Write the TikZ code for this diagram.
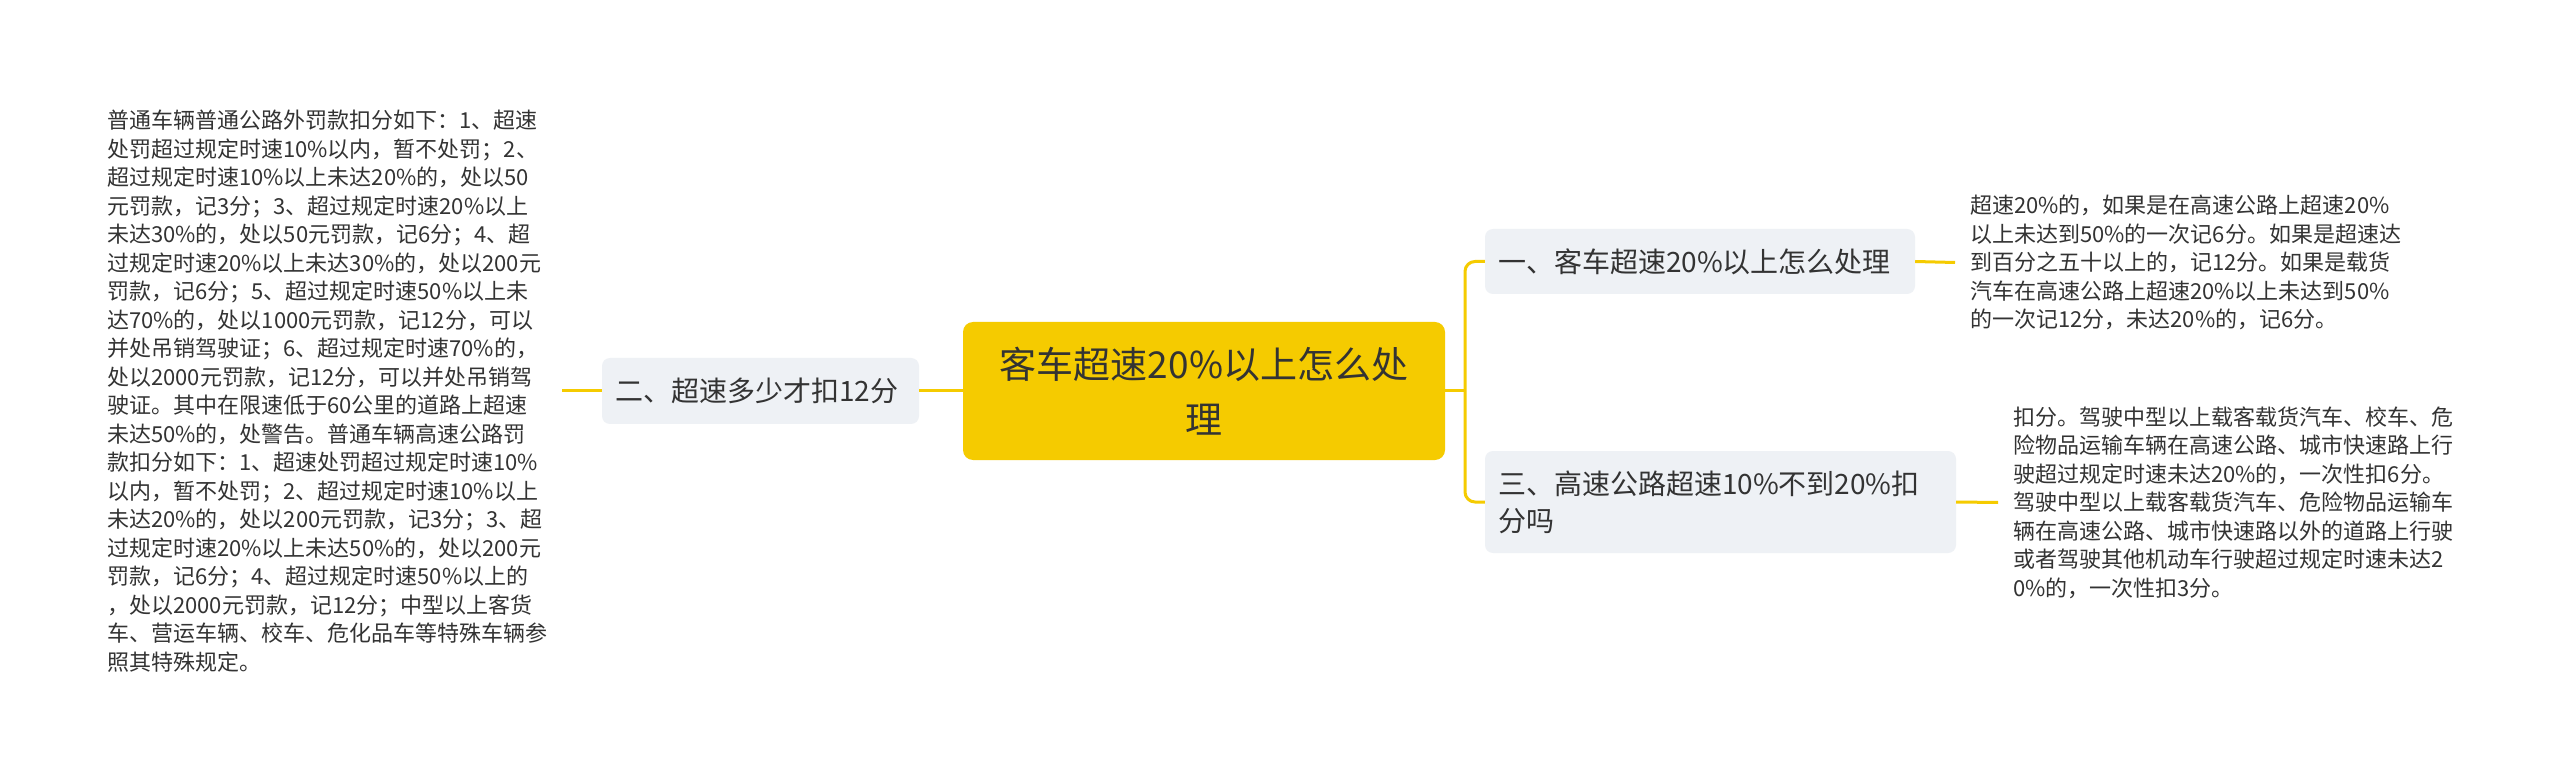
\documentclass[tikz,border=0pt]{standalone}
\usepackage{fontspec}
\setmainfont{Noto Sans CJK SC}
\definecolor{ylw}{HTML}{F5CB00}
\definecolor{gry}{HTML}{EEF1F5}
\definecolor{txt}{HTML}{333333}
\begin{document}
\begin{tikzpicture}[x=1pt,y=-1pt,
  conn/.style={draw=ylw, line width=3pt},
  rootbox/.style={fill=ylw, rounded corners=10pt, minimum width=482pt, minimum height=138pt, inner sep=0pt, align=center, font=\fontsize{37}{55}\selectfont, text=txt},
  topicbox/.style={fill=gry, rounded corners=8pt, inner xsep=13pt, inner ysep=0pt, align=left, font=\fontsize{28}{37}\selectfont, text=txt},
  leaftext/.style={inner xsep=15pt, inner ysep=0pt, align=left, anchor=west, font=\fontsize{22}{28.5}\selectfont, text=txt}
]
\useasboundingbox (0,0) rectangle (2560,783);
\fill[white] (0,0) rectangle (2560,783);

\node[rootbox] (root) at (1204,391) {客车超速20\%以上怎么处\\理};
\node[topicbox, text width=291pt, minimum height=66pt] (t2) at (760.5,391) {二、超速多少才扣12分};
\node[topicbox, text width=404pt, minimum height=65pt] (t1) at (1700,261.5) {一、客车超速20\%以上怎么处理};
\node[topicbox, text width=445pt, minimum height=102pt] (t3) at (1720.5,502) {三、高速公路超速10\%不到20\%扣\\分吗};

\node[leaftext] (l2) at (92,391) {普通车辆普通公路外罚款扣分如下：1、超速\\
处罚超过规定时速10\%以内，暂不处罚；2、\\
超过规定时速10\%以上未达20\%的，处以50\\
元罚款，记3分；3、超过规定时速20\%以上\\
未达30\%的，处以50元罚款，记6分；4、超\\
过规定时速20\%以上未达30\%的，处以200元\\
罚款，记6分；5、超过规定时速50\%以上未\\
达70\%的，处以1000元罚款，记12分，可以\\
并处吊销驾驶证；6、超过规定时速70\%的，\\
处以2000元罚款，记12分，可以并处吊销驾\\
驶证。其中在限速低于60公里的道路上超速\\
未达50\%的，处警告。普通车辆高速公路罚\\
款扣分如下：1、超速处罚超过规定时速10\%\\
以内，暂不处罚；2、超过规定时速10\%以上\\
未达20\%的，处以200元罚款，记3分；3、超\\
过规定时速20\%以上未达50\%的，处以200元\\
罚款，记6分；4、超过规定时速50\%以上的\\
，处以2000元罚款，记12分；中型以上客货\\
车、营运车辆、校车、危化品车等特殊车辆参\\
照其特殊规定。};

\node[leaftext] (l1) at (1955,262.5) {超速20\%的，如果是在高速公路上超速20\%\\
以上未达到50\%的一次记6分。如果是超速达\\
到百分之五十以上的，记12分。如果是载货\\
汽车在高速公路上超速20\%以上未达到50\%\\
的一次记12分，未达20\%的，记6分。};

\node[leaftext] (l3) at (1998,502.5) {扣分。驾驶中型以上载客载货汽车、校车、危\\
险物品运输车辆在高速公路、城市快速路上行\\
驶超过规定时速未达20\%的，一次性扣6分。\\
驾驶中型以上载客载货汽车、危险物品运输车\\
辆在高速公路、城市快速路以外的道路上行驶\\
或者驾驶其他机动车行驶超过规定时速未达2\\
0\%的，一次性扣3分。};

\coordinate (bx) at (1465,391);
\coordinate (c2) at (562,391);
\draw[conn] (root.west) -- (t2.east);
\draw[conn] (t2.west) -- (c2);
\draw[conn] (root.east) -- (bx);
\draw[conn, rounded corners=10pt] (t1.west) -| (bx) |- (t3.west);
\draw[conn] (t1.east) -- (l1.west);
\draw[conn] (t3.east) -- (l3.west);
\end{tikzpicture}
\end{document}
